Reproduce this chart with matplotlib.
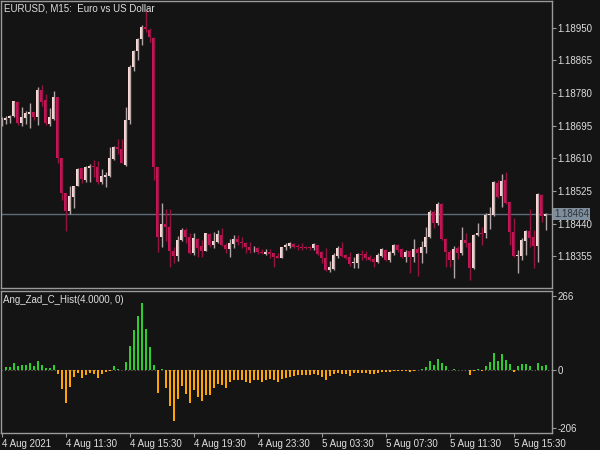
import matplotlib
matplotlib.use('Agg')
import matplotlib.pyplot as plt
import matplotlib.transforms as mtransforms
import numpy as np

#  EURUSD M15 candles, 4 Aug 2021 07:30 onwards (open, high, low, close)
opens = [1.18697, 1.18710, 1.18714, 1.18719, 1.18758, 1.18702, 1.18716, 1.18725, 1.18730, 1.18718,
         1.18788, 1.18761, 1.18699, 1.18712, 1.18769, 1.18610, 1.18519, 1.18473, 1.18510, 1.18538,
         1.18585, 1.18554, 1.18585, 1.18590, 1.18587, 1.18549, 1.18562, 1.18564, 1.18609, 1.18640,
         1.18634, 1.18592, 1.18710, 1.18849, 1.18890, 1.18920, 1.18953, 1.18945, 1.18923, 1.18588,
         1.18404, 1.18439, 1.18430, 1.18369, 1.18356, 1.18397, 1.18423, 1.18406, 1.18362, 1.18399,
         1.18382, 1.18369, 1.18413, 1.18385, 1.18392, 1.18410, 1.18384, 1.18373, 1.18387, 1.18400,
         1.18392, 1.18390, 1.18380, 1.18375, 1.18376, 1.18367, 1.18361, 1.18365, 1.18362, 1.18356,
         1.18350, 1.18378, 1.18382, 1.18386, 1.18382, 1.18380, 1.18379, 1.18379, 1.18375, 1.18384,
         1.18367, 1.18351, 1.18319, 1.18321, 1.18356, 1.18376, 1.18358, 1.18352, 1.18337, 1.18338,
         1.18361, 1.18360, 1.18352, 1.18348, 1.18339, 1.18356, 1.18371, 1.18345, 1.18362, 1.18384,
         1.18373, 1.18352, 1.18369, 1.18352, 1.18373, 1.18362, 1.18378, 1.18404, 1.18469, 1.18441,
         1.18491, 1.18399, 1.18367, 1.18345, 1.18376, 1.18362, 1.18397, 1.18390, 1.18323, 1.18409,
         1.18415, 1.18415, 1.18462, 1.18462, 1.18545, 1.18512, 1.18554, 1.18496, 1.18419, 1.18356,
         1.18356, 1.18395, 1.18421, 1.18404, 1.18382, 1.18515, 1.18460]
highs = [1.18718, 1.18719, 1.18722, 1.18760, 1.18760, 1.18743, 1.18734, 1.18754, 1.18730, 1.18795,
         1.18801, 1.18778, 1.18741, 1.18785, 1.18771, 1.18610, 1.18519, 1.18538, 1.18538, 1.18584,
         1.18585, 1.18590, 1.18595, 1.18606, 1.18602, 1.18582, 1.18575, 1.18639, 1.18642, 1.18660,
         1.18660, 1.18743, 1.18853, 1.18893, 1.18923, 1.18958, 1.18997, 1.18949, 1.18926, 1.18588,
         1.18493, 1.18477, 1.18477, 1.18380, 1.18408, 1.18428, 1.18428, 1.18415, 1.18415, 1.18402,
         1.18397, 1.18416, 1.18415, 1.18419, 1.18423, 1.18428, 1.18390, 1.18399, 1.18410, 1.18410,
         1.18404, 1.18393, 1.18393, 1.18382, 1.18380, 1.18373, 1.18373, 1.18373, 1.18364, 1.18364,
         1.18380, 1.18389, 1.18393, 1.18389, 1.18386, 1.18389, 1.18382, 1.18382, 1.18389, 1.18384,
         1.18369, 1.18376, 1.18343, 1.18362, 1.18382, 1.18393, 1.18361, 1.18367, 1.18352, 1.18362,
         1.18371, 1.18368, 1.18358, 1.18354, 1.18362, 1.18376, 1.18373, 1.18368, 1.18387, 1.18387,
         1.18376, 1.18371, 1.18371, 1.18399, 1.18380, 1.18395, 1.18430, 1.18475, 1.18475, 1.18497,
         1.18494, 1.18402, 1.18371, 1.18382, 1.18382, 1.18430, 1.18416, 1.18393, 1.18413, 1.18442,
         1.18432, 1.18467, 1.18482, 1.18551, 1.18554, 1.18569, 1.18575, 1.18497, 1.18454, 1.18371,
         1.18402, 1.18423, 1.18477, 1.18423, 1.18519, 1.18516, 1.18467]
lows = [1.18695, 1.18699, 1.18702, 1.18717, 1.18697, 1.18693, 1.18699, 1.18688, 1.18710, 1.18697,
        1.18747, 1.18697, 1.18694, 1.18710, 1.18599, 1.18501, 1.18421, 1.18465, 1.18481, 1.18538,
        1.18545, 1.18549, 1.18549, 1.18562, 1.18543, 1.18543, 1.18535, 1.18562, 1.18606, 1.18621,
        1.18597, 1.18590, 1.18700, 1.18838, 1.18867, 1.18906, 1.18940, 1.18914, 1.18554, 1.18367,
        1.18380, 1.18395, 1.18328, 1.18337, 1.18343, 1.18395, 1.18389, 1.18361, 1.18358, 1.18354,
        1.18354, 1.18368, 1.18380, 1.18376, 1.18389, 1.18382, 1.18362, 1.18354, 1.18376, 1.18384,
        1.18376, 1.18362, 1.18362, 1.18367, 1.18361, 1.18361, 1.18358, 1.18350, 1.18328, 1.18350,
        1.18350, 1.18371, 1.18376, 1.18376, 1.18371, 1.18371, 1.18373, 1.18371, 1.18371, 1.18358,
        1.18337, 1.18317, 1.18315, 1.18319, 1.18350, 1.18352, 1.18347, 1.18329, 1.18323, 1.18323,
        1.18345, 1.18345, 1.18342, 1.18328, 1.18337, 1.18354, 1.18343, 1.18341, 1.18358, 1.18367,
        1.18350, 1.18341, 1.18312, 1.18341, 1.18303, 1.18338, 1.18362, 1.18402, 1.18428, 1.18436,
        1.18397, 1.18328, 1.18328, 1.18297, 1.18347, 1.18358, 1.18378, 1.18293, 1.18321, 1.18408,
        1.18384, 1.18402, 1.18425, 1.18460, 1.18506, 1.18482, 1.18491, 1.18384, 1.18354, 1.18310,
        1.18345, 1.18358, 1.18378, 1.18323, 1.18341, 1.18445, 1.18423]
closes = [1.18715, 1.18716, 1.18720, 1.18759, 1.18703, 1.18717, 1.18727, 1.18730, 1.18718, 1.18788,
          1.18758, 1.18702, 1.18717, 1.18769, 1.18610, 1.18519, 1.18473, 1.18512, 1.18538, 1.18582,
          1.18555, 1.18588, 1.18590, 1.18587, 1.18549, 1.18564, 1.18567, 1.18611, 1.18640, 1.18634,
          1.18599, 1.18710, 1.18849, 1.18890, 1.18921, 1.18953, 1.18947, 1.18927, 1.18588, 1.18404,
          1.18439, 1.18432, 1.18369, 1.18356, 1.18397, 1.18423, 1.18406, 1.18362, 1.18402, 1.18376,
          1.18369, 1.18415, 1.18384, 1.18394, 1.18412, 1.18384, 1.18373, 1.18389, 1.18400, 1.18393,
          1.18389, 1.18378, 1.18371, 1.18376, 1.18367, 1.18362, 1.18367, 1.18361, 1.18352, 1.18350,
          1.18378, 1.18384, 1.18389, 1.18380, 1.18378, 1.18375, 1.18376, 1.18375, 1.18386, 1.18361,
          1.18350, 1.18319, 1.18328, 1.18358, 1.18376, 1.18356, 1.18350, 1.18335, 1.18340, 1.18361,
          1.18357, 1.18350, 1.18345, 1.18340, 1.18358, 1.18373, 1.18345, 1.18366, 1.18383, 1.18371,
          1.18352, 1.18367, 1.18352, 1.18373, 1.18362, 1.18378, 1.18404, 1.18469, 1.18441, 1.18491,
          1.18399, 1.18367, 1.18345, 1.18373, 1.18364, 1.18397, 1.18390, 1.18323, 1.18410, 1.18416,
          1.18413, 1.18462, 1.18465, 1.18548, 1.18510, 1.18552, 1.18493, 1.18419, 1.18356, 1.18358,
          1.18397, 1.18421, 1.18402, 1.18382, 1.18516, 1.18460, 1.18464]

#  Ang_Zad_C_Hist(4.0000, 0) values, one per candle
hist = [0, 12, 12, 25, 17, 18, 20, 25, 17, 35,
        20, 9, 9, 20, -12, -65, -115, -59, -24, -9,
        -26, -18, -9, -14, -26, -12, -6, -2, 14, 5,
        1, 30, 89, 144, 195, 241, 148, 85, 21, -80,
        4, -62, -128, -180, -104, -57, -83, -116, -71, -95,
        -109, -89, -89, -62, -47, -53, -62, -41, -33, -33,
        -35, -41, -45, -33, -35, -41, -33, -30, -35, -41,
        -32, -26, -24, -21, -18, -18, -18, -18, -14, -18,
        -24, -35, -20, -14, -9, -12, -12, -20, -9, -8,
        -8, -8, -12, -14, -9, -7, -7, -4, -1, -2,
        -2, -1, -4, -1, 0, 5, 12, 35, 18, 39,
        28, 17, 0, 4, 0, 1, 1, -17, -2, 4,
        -1, 14, 30, 63, 32, 59, 38, 24, -4, 17,
        24, 24, 14, 0, 28, 14, 21]

price_ticks = [1.18355, 1.18440, 1.18525, 1.18610, 1.18695, 1.18780, 1.18865, 1.18950]
hist_ticks = [-206, 0, 266]
time_tick_idx = [0, 16, 32, 48, 64, 80, 96, 112, 128]
time_labels = ['4 Aug 2021', '4 Aug 11:30', '4 Aug 15:30', '4 Aug 19:30', '4 Aug 23:30',
               '5 Aug 03:30', '5 Aug 07:30', '5 Aug 11:30', '5 Aug 15:30']

BG = '#141414'
FRAME = '#9a9a9a'
TXT = '#dedede'
BULL, BEAR = '#fcd9d4', '#c8145a'
BULL_WICK, BEAR_WICK = '#b3a5a5', '#95143f'

plt.rcParams['font.family'] = ['Liberation Sans', 'DejaVu Sans']

fig = plt.figure(figsize=(6, 4.5), dpi=100, facecolor=BG)
ax = fig.add_axes([1 / 600, 1 - 288 / 450, 551 / 600, 287 / 450], facecolor=BG)
axh = fig.add_axes([1 / 600, 1 - 433 / 450, 551 / 600, 142 / 450], facecolor=BG)

x = np.arange(len(closes))
o = np.array(opens)
c = np.array(closes)
h = np.array(highs)
l = np.array(lows)
up = c >= o

#  wicks then bodies
ax.vlines(x[up], l[up], h[up], color=BULL_WICK, linewidth=1)
ax.vlines(x[~up], l[~up], h[~up], color=BEAR_WICK, linewidth=1)
body_lo = np.minimum(o, c)
body_h = np.maximum(np.abs(c - o), 0.000022)
ax.bar(x[up], body_h[up], bottom=body_lo[up], width=0.62, color=BULL, linewidth=0)
ax.bar(x[~up], body_h[~up], bottom=body_lo[~up], width=0.62, color=BEAR, linewidth=0)

#  last price line and label
last = closes[-1]
ax.axhline(last, color='#5f6c79', linewidth=1, zorder=0)
trans = mtransforms.blended_transform_factory(ax.transAxes, ax.transData)
ax.text(1.004, last, f'{last:.5f}', transform=trans, ha='left', va='center', fontsize=7,
        color='#2f353b', bbox=dict(boxstyle='square,pad=0.12', fc='#7f8e9c', ec='none'))

ax.set_xlim(-0.175, 137.575)
ax.set_ylim(1.18272, 1.19020)
ax.yaxis.tick_right()
ax.set_yticks(price_ticks)
ax.set_yticklabels([f'{v:.5f}' for v in price_ticks])
ax.set_xticks([])
ax.text(0.006, 0.992, 'EURUSD, M15:  Euro vs US Dollar', transform=ax.transAxes,
        ha='left', va='top', fontsize=7, color=TXT)

#  indicator histogram
hv = np.array(hist)
colors = np.where(hv >= 0, '#2ecc2e', '#ffa500')
axh.bar(x, hv, width=0.5, color=colors, linewidth=0)
axh.axhline(0, color='#6a6a6a', linewidth=0.8, linestyle=(0, (1, 2)), zorder=0)
axh.set_xlim(-0.175, 137.575)
axh.set_ylim(-224, 284)
axh.yaxis.tick_right()
axh.set_yticks(hist_ticks)
axh.set_yticklabels([str(v) for v in hist_ticks])
axh.set_xticks(time_tick_idx)
axh.set_xticklabels(time_labels, ha='left')
axh.text(0.004, 0.975, 'Ang_Zad_C_Hist(4.0000, 0)', transform=axh.transAxes,
         ha='left', va='top', fontsize=7, color=TXT)

for a in (ax, axh):
    for s in a.spines.values():
        s.set_color(FRAME)
        s.set_linewidth(1)
    a.tick_params(axis='y', colors=FRAME, labelcolor=TXT, labelsize=7, length=3, width=0.8, pad=1)
    a.tick_params(axis='x', colors=FRAME, labelcolor=TXT, labelsize=7, length=3, width=0.8, pad=1)

fig.savefig('out.png', dpi=100, facecolor=BG)
